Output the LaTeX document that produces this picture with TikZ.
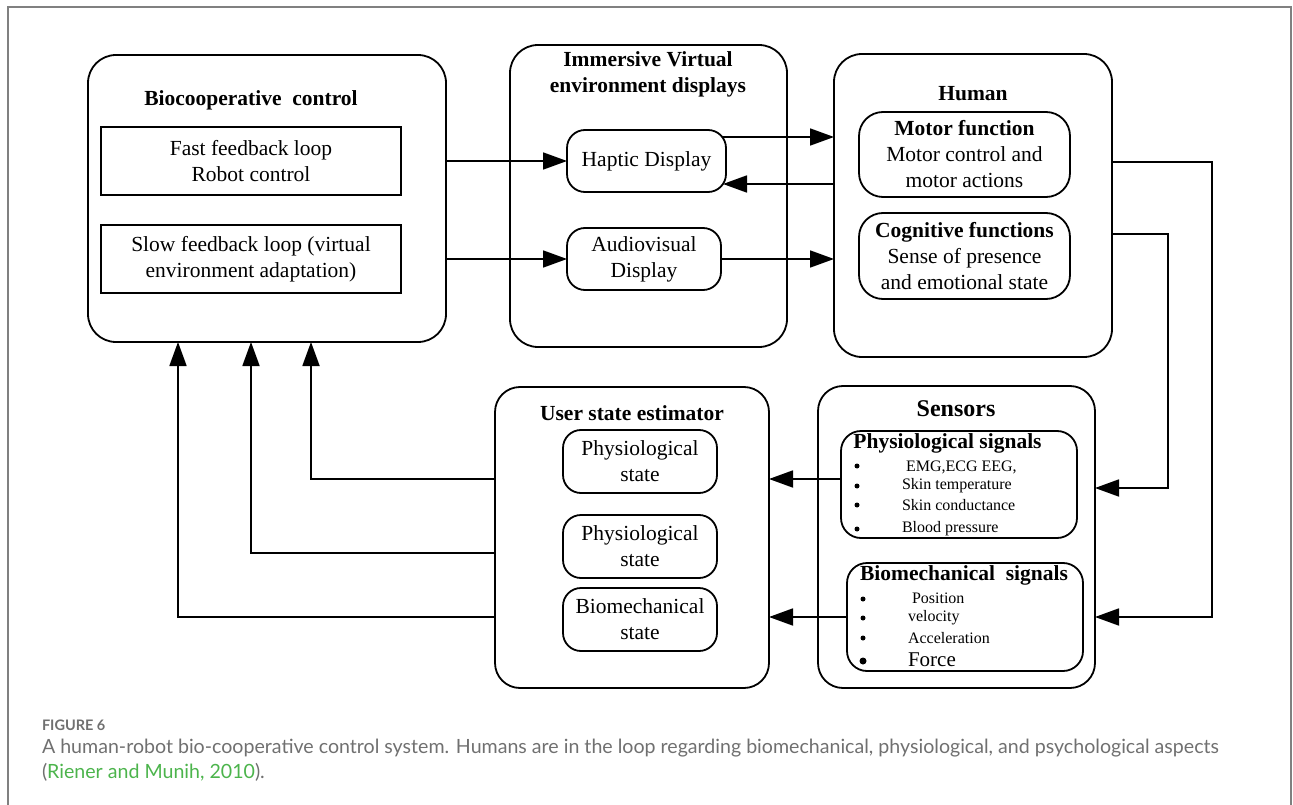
\documentclass[tikz,border=0pt]{standalone}
\usepackage{fontspec}
\setmainfont{Liberation Serif}
\newfontfamily\capfont{Lato}
\usetikzlibrary{arrows.meta,calc}
\definecolor{framegray}{RGB}{128,128,128}
\definecolor{capgray}{RGB}{112,112,112}
\definecolor{citegreen}{RGB}{76,180,76}

\begin{document}
\begin{tikzpicture}[x=1pt,y=-1pt,
  every node/.style={inner sep=0pt, outer sep=0pt, font=\fontsize{21.5}{26}\selectfont},
  bigbox/.style={draw, line width=1.8pt, rounded corners=28pt, rectangle},
  midbox/.style={draw, line width=1.8pt, rounded corners=20pt, rectangle, align=center},
  sqbox/.style={draw, line width=1.8pt, rectangle, align=center},
  ttl/.style={font=\fontsize{21.5}{26}\selectfont\bfseries, align=center},
  arr/.style={line width=1.8pt, -{Triangle[length=24pt,width=17pt]}},
  itm/.style={anchor=west, font=\fontsize{16}{18}\selectfont},
  dot/.style={circle, fill=black, minimum size=5pt},
]
\useasboundingbox (0,0) rectangle (1293,805);

% page frame
\draw[framegray, line width=1.4pt] (8,806) -- (8,7) -- (1291,7) -- (1291,806);

% ---- Biocooperative control
\node[bigbox, minimum width=358pt, minimum height=287pt] (bio) at (267,198.5) {};
\node[ttl] (biot) at (251,100) {Biocooperative\ \ control};
\node[sqbox, minimum width=300pt, minimum height=68pt] (fast) at (251,161)
  {Fast feedback loop\\Robot control};
\node[sqbox, minimum width=300pt, minimum height=68pt] (slow) at (251,259)
  {Slow feedback loop (virtual\\environment adaptation)};

% ---- Immersive virtual environment displays
\node[bigbox, minimum width=277pt, minimum height=302pt] (ive) at (648.5,196) {};
\node[ttl] (ivet) at (648,74) {Immersive Virtual\\environment displays};
\node[midbox, rounded corners=18pt, minimum width=159pt, minimum height=62pt] (hap) at (646.5,161) {Haptic Display};
\node[midbox, rounded corners=18pt, minimum width=154pt, minimum height=62pt] (av) at (644,259) {Audiovisual\\Display};

% ---- Human
\node[bigbox, minimum width=278pt, minimum height=303pt] (human) at (973,205.5) {};
\node[ttl] (humant) at (973,94) {Human};
\node[midbox, rounded corners=24pt, minimum width=211pt, minimum height=85pt] (motor) at (964.5,154.5)
  {\textbf{Motor function}\\Motor control and\\motor actions};
\node[midbox, rounded corners=24pt, minimum width=211pt, minimum height=86pt] (cog) at (964.5,256)
  {\textbf{Cognitive functions}\\Sense of presence\\and emotional state};

% ---- User state estimator
\node[bigbox, rounded corners=25pt, minimum width=274pt, minimum height=301pt] (user) at (632,537.5) {};
\node[ttl] (usert) at (632,413) {User state estimator};
\node[midbox, rounded corners=18pt, minimum width=154pt, minimum height=63pt] (ps1) at (640,461.5) {Physiological\\state};
\node[midbox, rounded corners=18pt, minimum width=154pt, minimum height=63pt] (ps2) at (640,546.5) {Physiological\\state};
\node[midbox, rounded corners=18pt, minimum width=154pt, minimum height=63pt] (bms) at (640,619.5) {Biomechanical\\state};

% ---- Sensors
\node[bigbox, rounded corners=25pt, minimum width=277pt, minimum height=302pt] (sens) at (956.5,537) {};
\node[font=\fontsize{24}{28}\selectfont\bfseries] (senst) at (956,409) {Sensors};
\node[midbox, rounded corners=20pt, minimum width=236pt, minimum height=107pt] (physig) at (959,484.5) {};
\node[ttl] (physigt) at (947.5,443) {Physiological signals};
\node[dot] (pd1) at (857,466) {};
\node[dot] (pd2) at (857,486) {};
\node[dot] (pd3) at (857,505) {};
\node[dot] (pd4) at (857,529) {};
\node[itm] (pi1) at (906,467) {EMG,ECG EEG,};
\node[itm] (pi2) at (902,486) {Skin temperature};
\node[itm] (pi3) at (902,505) {Skin conductance};
\node[itm] (pi4) at (902,529) {Blood pressure};

\node[midbox, rounded corners=20pt, minimum width=236pt, minimum height=108pt] (biosig) at (965,617) {};
\node[ttl] (biosigt) at (964,575) {Biomechanical\ \ signals};
\node[dot] (bd1) at (863,599) {};
\node[dot] (bd2) at (863,618) {};
\node[dot] (bd3) at (863,638) {};
\node[dot, minimum size=7pt] (bd4) at (863,661) {};
\node[itm] (bi1) at (912,598) {Position};
\node[itm] (bi2) at (908,618) {velocity};
\node[itm] (bi3) at (908,638) {Acceleration};
\node[itm, font=\fontsize{21}{24}\selectfont] (bi4) at (908,660) {Force};

% ---- connectors
\draw[arr] (bio.east |- hap.west) -- (hap.west);
\draw[arr] (bio.east |- av.west) -- (av.west);

\coordinate (h1) at ($(hap.east)+(-4,-24)$);
\coordinate (h2) at ($(hap.east)+(-3,23)$);
\draw[arr] (h1) -- (h1 -| human.west);
\draw[arr] (h2 -| human.west) -- (h2);
\draw[arr] (av.east) -- (av.east -| human.west);

\coordinate (r1) at (1212,162);
\coordinate (r2) at (1168,234);
\coordinate (s1) at (0,488);
\draw[arr] (human.east |- r1) -- (r1) |- (sens.east |- biosig.center);
\draw[arr] (human.east |- r2) -- (r2) |- (sens.east |- s1);

\coordinate (u1) at (0,479);
\draw[arr] (physig.west |- u1) -- (user.east |- u1);
\draw[arr] (biosig.west) -- (biosig.west -| user.east);

\coordinate (b1) at (311,479);
\coordinate (b2) at (251,553);
\coordinate (b3) at (178,617);
\draw[arr] (user.west |- b1) -| (bio.south -| b1);
\draw[arr] (user.west |- b2) -| (bio.south -| b2);
\draw[arr] (user.west |- b3) -| (bio.south -| b3);

% ---- caption
\node[anchor=west, text=capgray, font=\capfont\bfseries\fontsize{14.5}{16}\selectfont] (fig) at (42,725) {FIGURE 6};
\node[anchor=west, text=capgray, font=\capfont\fontsize{19.6}{22}\selectfont] (cap1) at (42,748)
  {A human-robot bio-cooperative control system. Humans are in the loop regarding biomechanical, physiological, and psychological aspects};
\node[anchor=west, text=capgray, font=\capfont\fontsize{19.6}{22}\selectfont] (cap2) at (42,772)
  {(\textcolor{citegreen}{Riener and Munih, 2010}).};
\end{tikzpicture}
\end{document}
